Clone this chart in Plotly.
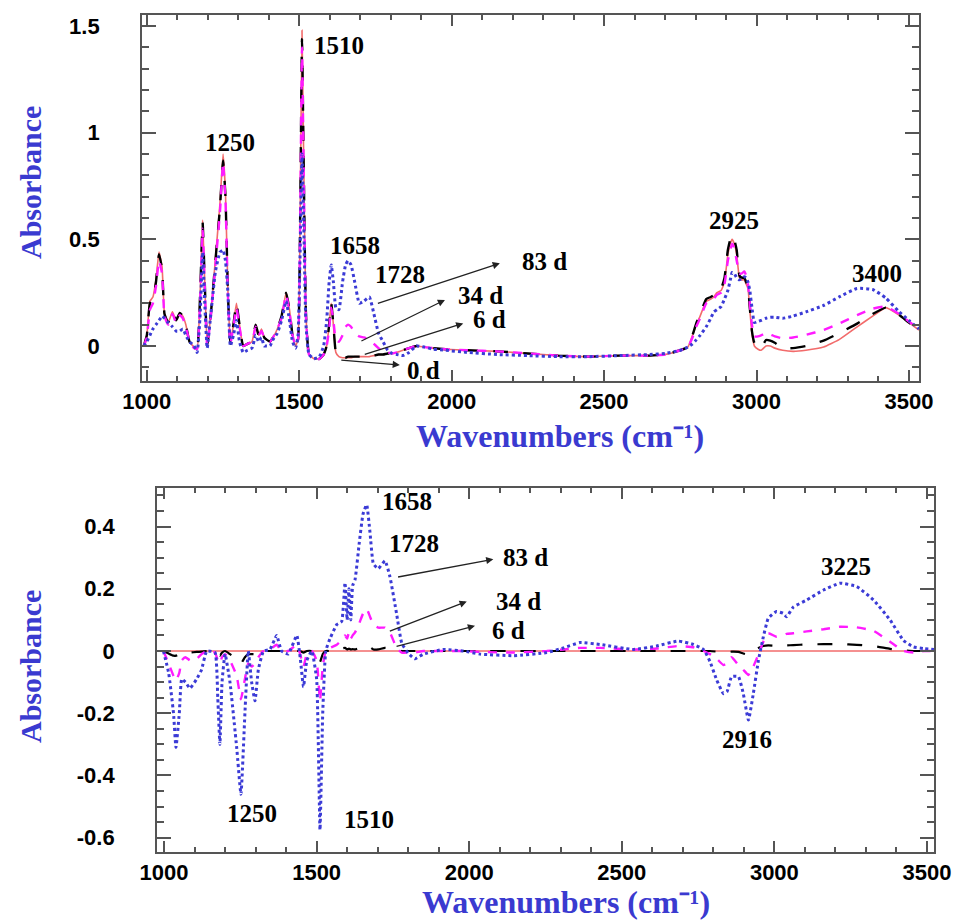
import plotly.graph_objects as go

# ---------------- DATA ----------------
# Top panel: FTIR absorbance spectra
wn_top = [990, 1000, 1010, 1020, 1030, 1040, 1050, 1058, 1070, 1084, 1096, 1108, 1118, 1128, 1140,
          1155, 1165, 1175, 1183, 1190, 1198, 1210, 1225, 1240, 1250, 1258, 1266, 1274, 1284, 1294,
          1304, 1316, 1330, 1345, 1357, 1367, 1376, 1385, 1393, 1404, 1414, 1428, 1442, 1457, 1468,
          1478, 1488, 1496, 1503, 1509, 1515, 1522, 1532, 1548, 1566, 1580, 1590, 1598, 1605, 1612,
          1620, 1630, 1642, 1652, 1660, 1670, 1682, 1697, 1712, 1730, 1745, 1760, 1775, 1790, 1805,
          1820, 1840, 1860, 1885, 1910, 1940, 1980, 2050, 2150, 2250, 2350, 2450, 2550, 2650, 2700,
          2750, 2775, 2790, 2802, 2815, 2835, 2850, 2860, 2870, 2884, 2895, 2906, 2914, 2920, 2927,
          2935, 2944, 2952, 2960, 2966, 2972, 2978, 2985, 2993, 3005, 3015, 3031, 3045, 3060, 3086,
          3120, 3162, 3220, 3271, 3330, 3381, 3424, 3468, 3500, 3533]

abs_0d = [0.00, 0.05, 0.21, 0.23, 0.31, 0.44, 0.37, 0.15, 0.11, 0.16, 0.12, 0.155, 0.14, 0.10, 0.02,
          -0.005, -0.01, 0.25, 0.59, 0.30, 0.00, 0.15, 0.41, 0.67, 0.90, 0.72, 0.26, 0.01, 0.10, 0.20,
          0.10, 0.00, 0.01, 0.02, 0.10, 0.05, 0.08, 0.04, 0.03, 0.02, 0.04, 0.08, 0.14, 0.25, 0.17,
          0.05, 0.00, 0.03, 0.62, 1.48, 0.82, 0.15, -0.04, -0.06, -0.06, -0.04, 0.00, 0.10, 0.20, 0.10,
          -0.03, -0.05, -0.055, -0.055, -0.055, -0.055, -0.05, -0.05, -0.05, -0.05, -0.045, -0.04, -0.04, -0.035, -0.035,
          -0.03, -0.02, -0.01, 0.00, -0.005, -0.01, -0.015, -0.02, -0.025, -0.035, -0.045, -0.05, -0.045, -0.045, -0.04,
          -0.02, -0.005, 0.05, 0.10, 0.14, 0.21, 0.22, 0.23, 0.25, 0.26, 0.30, 0.43, 0.48, 0.50, 0.48,
          0.43, 0.32, 0.31, 0.31, 0.29, 0.27, 0.17, 0.06, 0.00, -0.015, -0.02, 0.00, 0.00, -0.01, -0.02,
          -0.025, -0.02, -0.005, 0.03, 0.09, 0.14, 0.18, 0.145, 0.11, 0.075]

abs_6d = [0.00, 0.05, 0.20, 0.22, 0.30, 0.43, 0.36, 0.15, 0.11, 0.16, 0.12, 0.155, 0.14, 0.10, 0.02,
          -0.005, -0.01, 0.25, 0.58, 0.30, 0.00, 0.15, 0.40, 0.65, 0.87, 0.70, 0.25, 0.01, 0.10, 0.20,
          0.10, 0.00, 0.01, 0.02, 0.10, 0.05, 0.08, 0.04, 0.03, 0.02, 0.04, 0.08, 0.14, 0.25, 0.17,
          0.05, 0.00, 0.03, 0.60, 1.44, 0.80, 0.15, -0.04, -0.06, -0.06, -0.04, 0.00, 0.10, 0.20, 0.10,
          -0.03, -0.05, -0.055, -0.055, -0.05, -0.05, -0.05, -0.05, -0.05, -0.05, -0.045, -0.04, -0.04, -0.035, -0.035,
          -0.03, -0.02, -0.01, 0.00, -0.005, -0.01, -0.015, -0.02, -0.025, -0.035, -0.045, -0.05, -0.045, -0.045, -0.04,
          -0.02, -0.005, 0.05, 0.105, 0.15, 0.22, 0.23, 0.24, 0.265, 0.27, 0.32, 0.45, 0.50, 0.52, 0.50,
          0.45, 0.33, 0.32, 0.32, 0.30, 0.28, 0.18, 0.07, 0.015, -0.005, -0.01, 0.028, 0.025, 0.015, -0.01,
          -0.01, 0.00, 0.025, 0.06, 0.105, 0.15, 0.18, 0.145, 0.11, 0.075]

abs_34d = [0.00, 0.04, 0.17, 0.20, 0.28, 0.40, 0.34, 0.14, 0.10, 0.15, 0.11, 0.145, 0.13, 0.09, 0.02,
           -0.01, -0.015, 0.22, 0.55, 0.28, 0.00, 0.14, 0.38, 0.63, 0.86, 0.68, 0.24, 0.01, 0.09, 0.18,
           0.09, 0.00, 0.01, 0.02, 0.09, 0.05, 0.07, 0.04, 0.03, 0.02, 0.04, 0.08, 0.13, 0.24, 0.16,
           0.05, 0.00, 0.03, 0.58, 1.40, 0.78, 0.14, -0.04, -0.06, -0.06, -0.04, 0.00, 0.08, 0.18, 0.12,
           0.03, 0.02, 0.05, 0.09, 0.10, 0.09, 0.06, 0.045, 0.04, 0.03, 0.01, -0.01, -0.025, -0.03, -0.035,
           -0.03, -0.02, -0.01, 0.00, -0.005, -0.01, -0.015, -0.02, -0.025, -0.035, -0.045, -0.05, -0.045, -0.045, -0.04,
           -0.02, -0.005, 0.04, 0.09, 0.13, 0.20, 0.21, 0.22, 0.24, 0.25, 0.29, 0.40, 0.45, 0.48, 0.46,
           0.40, 0.34, 0.34, 0.35, 0.33, 0.29, 0.20, 0.10, 0.045, 0.045, 0.05, 0.06, 0.055, 0.045, 0.036,
           0.04, 0.052, 0.075, 0.105, 0.145, 0.175, 0.185, 0.15, 0.115, 0.08]

abs_83d = [0.00, 0.02, 0.05, 0.08, 0.10, 0.12, 0.14, 0.13, 0.11, 0.09, 0.07, 0.07, 0.08, 0.05, 0.02,
           0.00, -0.03, 0.15, 0.44, 0.20, -0.01, 0.15, 0.35, 0.44, 0.45, 0.40, 0.25, 0.00, 0.05, 0.12,
           0.02, -0.03, -0.02, -0.01, 0.05, 0.02, 0.04, 0.00, 0.00, 0.00, 0.03, 0.06, 0.12, 0.21, 0.12,
           0.02, -0.01, 0.05, 0.45, 0.90, 0.55, 0.10, -0.04, -0.06, -0.05, 0.00, 0.12, 0.30, 0.38, 0.30,
           0.18, 0.17, 0.30, 0.38, 0.40, 0.38, 0.30, 0.20, 0.21, 0.23, 0.15, 0.06, 0.02, -0.02, -0.035,
           -0.04, -0.045, -0.03, 0.00, -0.005, -0.015, -0.02, -0.03, -0.04, -0.045, -0.05, -0.05, -0.045, -0.04, -0.035,
           -0.02, -0.005, 0.01, 0.028, 0.05, 0.09, 0.13, 0.16, 0.17, 0.185, 0.22, 0.26, 0.31, 0.345, 0.34,
           0.32, 0.31, 0.315, 0.325, 0.32, 0.30, 0.26, 0.18, 0.11, 0.115, 0.12, 0.13, 0.135, 0.135, 0.13,
           0.14, 0.16, 0.19, 0.23, 0.27, 0.265, 0.225, 0.16, 0.12, 0.08]

# Bottom panel: difference spectra (t d - 0 d)
wn_bot = [998, 1015, 1031, 1039, 1050, 1058, 1070, 1085, 1107, 1123, 1140, 1167, 1176, 1183, 1190,
          1200, 1216, 1238, 1252, 1265, 1276, 1287, 1298, 1309, 1326, 1347, 1369, 1385, 1407, 1435,
          1446, 1457, 1468, 1484, 1500, 1511, 1520, 1530, 1544, 1566, 1582, 1593, 1600, 1606, 1612,
          1618, 1626, 1640, 1652, 1664, 1675, 1686, 1702, 1724, 1740, 1762, 1779, 1801, 1822, 1850,
          1915, 1981, 2036, 2145, 2254, 2309, 2363, 2429, 2538, 2614, 2685, 2735, 2768, 2789, 2811,
          2833, 2845, 2860, 2882, 2898, 2915, 2931, 2948, 2964, 2980, 3007, 3029, 3040, 3062, 3106,
          3161, 3215, 3270, 3325, 3379, 3423, 3456, 3490, 3523]

diff_83d = [0.0, -0.07, -0.20, -0.31, -0.20, -0.09, -0.10, -0.12, -0.09, -0.06, 0.0, -0.005, -0.15, -0.30, -0.10,
            -0.01, -0.10, -0.31, -0.46, -0.20, 0.0, -0.10, -0.16, -0.06, 0.0, 0.005, 0.05, 0.0, -0.01, 0.05,
            -0.02, -0.115, -0.03, 0.0, -0.09, -0.575, -0.20, 0.0, 0.04, 0.085, 0.095, 0.22, 0.10, 0.20, 0.10,
            0.21, 0.23, 0.35, 0.44, 0.47, 0.38, 0.28, 0.265, 0.29, 0.24, 0.12, 0.025, -0.008, -0.025, -0.01,
            0.005, 0.0, -0.01, -0.015, -0.005, 0.01, 0.027, 0.021, 0.005, 0.016, 0.032, 0.021, 0.005, -0.034, -0.093,
            -0.137, -0.13, -0.082, -0.082, -0.136, -0.222, -0.137, -0.029, 0.046, 0.105, 0.127, 0.121, 0.11, 0.141, 0.164,
            0.196, 0.218, 0.207, 0.164, 0.10, 0.034, 0.013, 0.008, 0.005]

diff_34d = [0.0, -0.04, -0.08, -0.095, -0.07, -0.03, -0.02, -0.03, -0.025, -0.01, 0.0, -0.005, -0.03, -0.04, -0.02,
            -0.01, -0.03, -0.08, -0.155, -0.09, -0.04, -0.05, -0.04, -0.02, 0.0, 0.005, 0.02, 0.0, 0.0, 0.02,
            -0.01, -0.05, -0.01, 0.0, -0.03, -0.16, -0.05, 0.0, 0.01, 0.02, 0.035, 0.05, 0.04, 0.06, 0.04,
            0.05, 0.06, 0.09, 0.12, 0.135, 0.11, 0.085, 0.075, 0.075, 0.06, 0.01, -0.005, -0.005, -0.005, 0.0,
            0.0, 0.0, -0.003, -0.005, 0.0, 0.005, 0.01, 0.01, 0.005, 0.008, 0.016, 0.012, 0.0, -0.01, -0.025,
            -0.045, -0.04, -0.02, -0.045, -0.06, -0.077, -0.05, -0.01, 0.03, 0.057, 0.046, 0.05, 0.055, 0.057, 0.063,
            0.07, 0.078, 0.076, 0.065, 0.03, 0.0, -0.005, 0.0, 0.0]

diff_6d = [0.0, -0.008, -0.015, -0.015, -0.01, -0.005, -0.005, -0.005, -0.003, -0.002, 0.0, 0.0, -0.01, -0.015, -0.005,
           0.0, -0.01, -0.025, -0.04, -0.02, -0.01, -0.01, -0.01, 0.0, 0.0, 0.0, 0.0, 0.0, 0.0, 0.0,
           0.0, -0.005, 0.0, 0.0, -0.01, -0.035, -0.01, 0.0, 0.0, 0.003, 0.008, 0.01, 0.005, 0.008, 0.005,
           0.006, 0.005, 0.01, 0.014, 0.015, 0.012, 0.005, 0.005, 0.01, 0.008, 0.005, 0.0, 0.0, 0.0, 0.0,
           0.0, 0.0, 0.0, 0.0, 0.0, 0.0, 0.0, 0.0, 0.0, 0.0, 0.0, 0.0, 0.0, 0.0, -0.002,
           -0.005, -0.004, -0.002, -0.003, -0.008, -0.012, 0.0, 0.01, 0.016, 0.018, 0.016, 0.017, 0.018, 0.019, 0.021,
           0.022, 0.022, 0.02, 0.016, 0.007, 0.002, 0.0, 0.0, 0.0]

wn_zero = [977, 3523]
diff_0d = [0.0, 0.0]

x_ticks = [1000, 1500, 2000, 2500, 3000, 3500]
y_ticks_top = [0, 0.5, 1, 1.5]
y_ticks_top_text = ["0", "0.5", "1", "1.5"]
y_ticks_bot = [-0.6, -0.4, -0.2, 0, 0.2, 0.4]
y_ticks_bot_text = ["-0.6", "-0.4", "-0.2", "0", "0.2", "0.4"]

# ---------------- FIGURE ----------------
RED = "#f26b6b"
MAG = "#ff1aff"
BLUE = "#3b3bd6"
AXC = "#555555"
TITLE_BLUE = "#3a3ad0"

fig = go.Figure()

def add(x, y, color, dash, width, xa, ya):
    fig.add_trace(go.Scatter(x=x, y=y, mode="lines", xaxis=xa, yaxis=ya, showlegend=False,
                             line=dict(color=color, dash=dash, width=width, shape="spline", smoothing=0.4)))

add(wn_top, abs_0d, RED, "solid", 1.6, "x", "y")
add(wn_top, abs_6d, "black", "longdash", 2.4, "x", "y")
add(wn_top, abs_34d, MAG, "dash", 2.4, "x", "y")
add(wn_top, abs_83d, BLUE, "3px,3px", 3, "x", "y")

add(wn_zero, diff_0d, RED, "solid", 1.6, "x2", "y2")
add(wn_bot, diff_6d, "black", "longdash", 2.2, "x2", "y2")
add(wn_bot, diff_34d, MAG, "dash", 2.4, "x2", "y2")
add(wn_bot, diff_83d, BLUE, "3px,3px", 3, "x2", "y2")

tickfont = dict(family="Liberation Sans", size=22, color="black", weight="bold")

def xaxis_cfg(domain, rng, anchor):
    return dict(domain=domain, range=rng, anchor=anchor, tickmode="array", tickvals=x_ticks,
                ticks="inside", ticklen=11, tickwidth=1.5, tickcolor=AXC, automargin=False,
                minor=dict(tickmode="linear", tick0=1000, dtick=100, ticks="inside", ticklen=5,
                           tickwidth=1.5, tickcolor=AXC),
                showline=True, linecolor=AXC, linewidth=1.8, mirror="allticks",
                showgrid=False, zeroline=False, tickfont=tickfont, ticklabelstandoff=0)

def yaxis_cfg(domain, rng, anchor, tv, tt, mdt):
    return dict(domain=domain, range=rng, anchor=anchor, tickmode="array", tickvals=tv, ticktext=tt,
                ticks="inside", ticklen=14, tickwidth=1.5, tickcolor=AXC, automargin=False,
                minor=dict(tickmode="linear", tick0=0, dtick=mdt, ticks="inside", ticklen=7,
                           tickwidth=1.5, tickcolor=AXC),
                showline=True, linecolor=AXC, linewidth=1.8, mirror="allticks",
                showgrid=False, zeroline=False, tickfont=tickfont, ticklabelstandoff=36)

fig.update_layout(
    width=954, height=920, margin=dict(l=0, r=0, t=0, b=0),
    paper_bgcolor="white", plot_bgcolor="white",
    xaxis=xaxis_cfg([0.1488, 0.9633], [984, 3533], "y"),
    yaxis=yaxis_cfg([0.5859, 0.9837], [-0.164, 1.552], "x", y_ticks_top, y_ticks_top_text, 0.1),
    xaxis2=xaxis_cfg([0.1646, 0.9790], [977, 3523], "y2"),
    yaxis2=yaxis_cfg([0.0739, 0.4696], [-0.646, 0.524], "x2", y_ticks_bot, y_ticks_bot_text, 0.05),
)

ann = []
lab_font = dict(family="Liberation Serif", size=25, color="black", weight="bold")
title_font = dict(family="Liberation Serif", size=32, color=TITLE_BLUE, weight="bold")
ytitle_font = dict(family="Liberation Serif", size=30, color=TITLE_BLUE, weight="bold")

# axis titles
for yc in (1 - 183 / 920, 1 - 667 / 920):
    ann.append(dict(xref="paper", yref="paper", x=30 / 954, y=yc, text="Absorbance", textangle=-90,
                    showarrow=False, font=ytitle_font, xanchor="center", yanchor="middle"))
for xc, yc in ((560 / 954, 1 - 436 / 920), (566 / 954, 1 - 902 / 920)):
    ann.append(dict(xref="paper", yref="paper", x=xc, y=yc, text="Wavenumbers (cm\u207b\u00b9)",
                    showarrow=False, font=title_font, xanchor="center", yanchor="middle"))

# peak labels, top
top_labels = [("1510", 1630, 1.41), ("1250", 1272, 0.955), ("1658", 1682, 0.47), ("1728", 1830, 0.333),
              ("83 d", 2306, 0.394), ("34 d", 2093, 0.235), ("6 d", 2125, 0.122), ("0 d", 1906, -0.117),
              ("2925", 2926, 0.59), ("3400", 3395, 0.342)]
for t, x, y in top_labels:
    ann.append(dict(xref="x", yref="y", x=x, y=y, text=t, showarrow=False, font=lab_font))

bot_labels = [("1658", 1796, 0.48), ("1728", 1819, 0.347), ("83 d", 2183, 0.302), ("34 d", 2160, 0.16),
              ("6 d", 2128, 0.067), ("1250", 1289, -0.521), ("1510", 1672, -0.54), ("3225", 3235, 0.27),
              ("2916", 2910, -0.286)]
for t, x, y in bot_labels:
    ann.append(dict(xref="x2", yref="y2", x=x, y=y, text=t, showarrow=False, font=lab_font))

# arrows: (head x, head y, tail x, tail y)
top_arrows = [(2158, 0.388, 1753, 0.197), (1978, 0.216, 1699, 0.02), (2038, 0.106, 1710, -0.042),
              (1830, -0.089, 1633, -0.066)]
for hx, hy, tx, ty in top_arrows:
    ann.append(dict(xref="x", yref="y", axref="x", ayref="y", x=hx, y=hy, ax=tx, ay=ty, text="",
                    showarrow=True, arrowhead=2, arrowsize=1.1, arrowwidth=1.3, arrowcolor="#222"))
bot_arrows = [(2079, 0.295, 1762, 0.237), (1992, 0.159, 1735, 0.062), (2019, 0.081, 1757, 0.014)]
for hx, hy, tx, ty in bot_arrows:
    ann.append(dict(xref="x2", yref="y2", axref="x2", ayref="y2", x=hx, y=hy, ax=tx, ay=ty, text="",
                    showarrow=True, arrowhead=2, arrowsize=1.1, arrowwidth=1.3, arrowcolor="#222"))

fig.update_layout(annotations=ann)
fig.write_html("out.html")
